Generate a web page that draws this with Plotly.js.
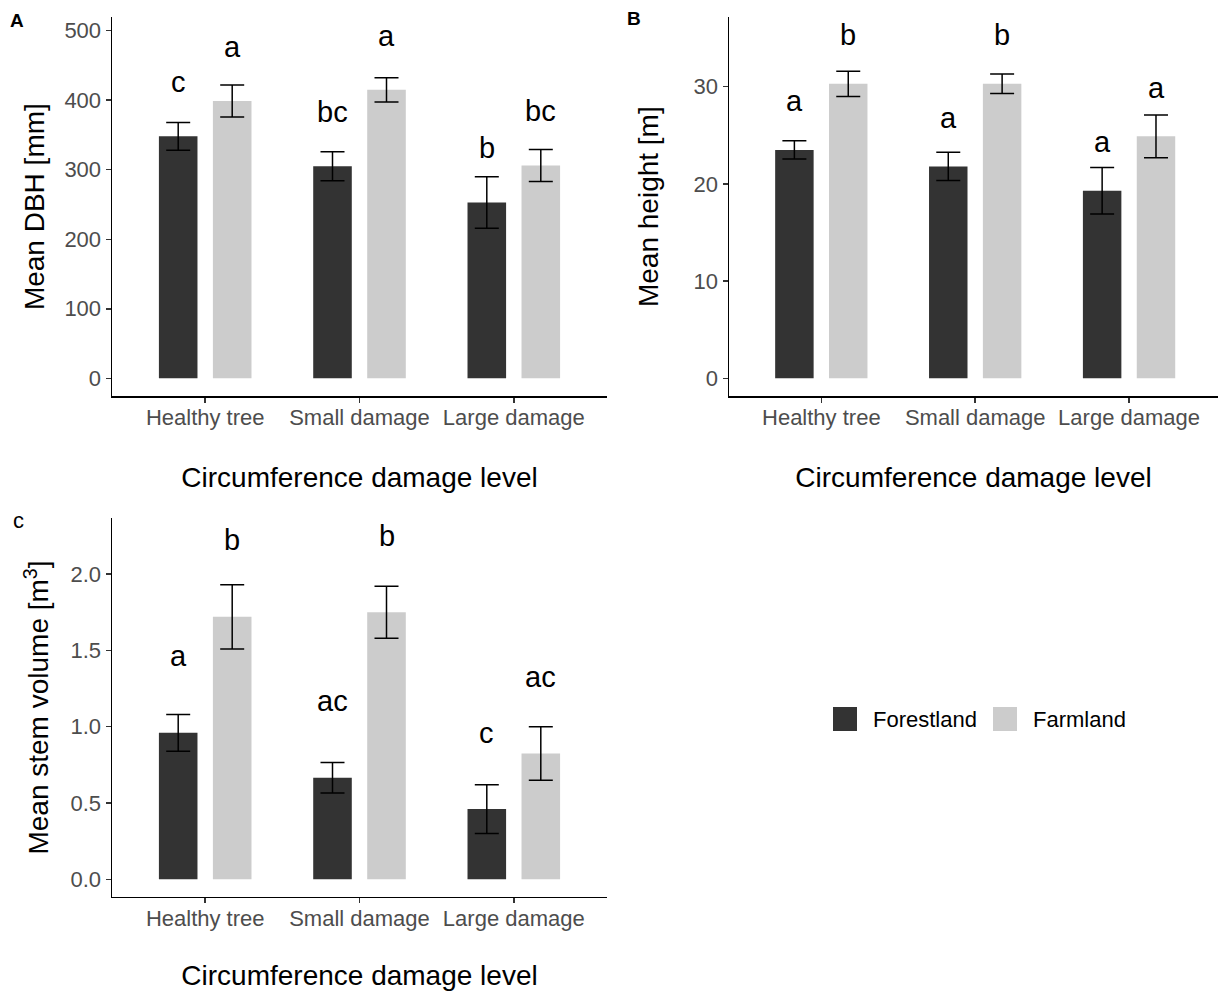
<!DOCTYPE html>
<html>
<head>
<meta charset="utf-8">
<script src="https://cdn.plot.ly/plotly-3.0.1.min.js"></script>
<style>html,body{margin:0;padding:0;background:#fff;}#chart{width:1218px;height:991px;}</style>
</head>
<body>
<div id="chart"></div>
<script>
// ---- data ----
const categories = ['Healthy tree', 'Small damage', 'Large damage'];
const seriesNames = ['Forestland', 'Farmland'];

const dbhForest = [348, 305, 253];
const dbhForestSE = [20, 21, 37];
const dbhFarm = [399, 415, 306];
const dbhFarmSE = [23, 17.5, 23];
const dbhLettersForest = ['c', 'bc', 'b'];
const dbhLettersFarm = ['a', 'a', 'bc'];

const heightForest = [23.5, 21.8, 19.3];
const heightForestSE = [0.95, 1.45, 2.4];
const heightFarm = [30.3, 30.3, 24.9];
const heightFarmSE = [1.3, 1.0, 2.2];
const heightLettersForest = ['a', 'a', 'a'];
const heightLettersFarm = ['b', 'b', 'a'];

const volForest = [0.96, 0.665, 0.46];
const volForestSE = [0.12, 0.10, 0.16];
const volFarm = [1.72, 1.75, 0.825];
const volFarmSE = [0.21, 0.17, 0.175];
const volLettersForest = ['a', 'ac', 'c'];
const volLettersFarm = ['b', 'b', 'ac'];

// ---- styles ----
const FOREST = '#333333', FARM = '#CCCCCC';
const FONT = 'Liberation Sans, Arial, sans-serif';
const W = 1218, H = 991;
const px = v => v / W;
const py = v => 1 - v / H;

function barTrace(name, y, se, color, xa, ya) {
  return {
    type: 'bar', name: name, x: categories, y: y, xaxis: xa, yaxis: ya,
    marker: {color: color, line: {width: 0}},
    error_y: {type: 'data', array: se, visible: true, color: '#000000', thickness: 1.5, width: 12},
    showlegend: false, hoverinfo: 'x+y'
  };
}

const panels = [
  {xa: 'x', ya: 'y', f: dbhForest, fse: dbhForestSE, g: dbhFarm, gse: dbhFarmSE, lf: dbhLettersForest, lg: dbhLettersFarm, off: 62},
  {xa: 'x2', ya: 'y2', f: heightForest, fse: heightForestSE, g: heightFarm, gse: heightFarmSE, lf: heightLettersForest, lg: heightLettersFarm, off: 3.87},
  {xa: 'x3', ya: 'y3', f: volForest, fse: volForestSE, g: volFarm, gse: volFarmSE, lf: volLettersForest, lg: volLettersFarm, off: 0.43}
];

const traces = [];
const annotations = [];
panels.forEach(p => {
  traces.push(barTrace(seriesNames[0], p.f, p.fse, FOREST, p.xa, p.ya));
  traces.push(barTrace(seriesNames[1], p.g, p.gse, FARM, p.xa, p.ya));
  categories.forEach((c, i) => {
    annotations.push({xref: p.xa, yref: p.ya, x: c, y: p.f[i] + p.off, text: p.lf[i], showarrow: false,
      xanchor: 'center', yanchor: 'bottom', xshift: -27, yshift: -7, font: {family: FONT, size: 29, color: '#000'}});
    annotations.push({xref: p.xa, yref: p.ya, x: c, y: p.g[i] + p.off, text: p.lg[i], showarrow: false,
      xanchor: 'center', yanchor: 'bottom', xshift: 27, yshift: -7, font: {family: FONT, size: 29, color: '#000'}});
  });
});

// panel tags
[['<b>A</b>', 17, 20], ['<b>B</b>', 634, 19], ['c', 18, 520]].forEach(t => {
  annotations.push({xref: 'paper', yref: 'paper', x: px(t[1]), y: py(t[2]), text: t[0],
    showarrow: false, xanchor: 'center', yanchor: 'middle', font: {family: FONT, size: t[0] === 'c' ? 22 : 19, color: '#000'}});
});

// legend (drawn)
const shapes = [
  {type: 'rect', xref: 'paper', yref: 'paper', x0: px(833), x1: px(857), y0: py(731), y1: py(707), fillcolor: FOREST, line: {width: 0}},
  {type: 'rect', xref: 'paper', yref: 'paper', x0: px(993), x1: px(1017), y0: py(731), y1: py(707), fillcolor: FARM, line: {width: 0}}
];
annotations.push({xref: 'paper', yref: 'paper', x: px(871), y: py(719), text: seriesNames[0], showarrow: false,
  xanchor: 'left', yanchor: 'middle', font: {family: FONT, size: 22, color: '#000'}});
annotations.push({xref: 'paper', yref: 'paper', x: px(1031), y: py(719), text: seriesNames[1], showarrow: false,
  xanchor: 'left', yanchor: 'middle', font: {family: FONT, size: 22, color: '#000'}});

function xAxis(domain, range, anchor) {
  return {
    domain: domain, anchor: anchor, type: 'category', categoryorder: 'array', categoryarray: categories,
    range: range, showline: true, linecolor: '#000', linewidth: 1.5, mirror: false,
    ticks: 'outside', ticklen: 5, tickwidth: 1.5, tickcolor: '#333333', ticklabelstandoff: -4,
    showgrid: false, zeroline: false, fixedrange: true,
    tickfont: {family: FONT, size: 22, color: '#4D4D4D'},
    title: {text: 'Circumference damage level', font: {family: FONT, size: 28, color: '#000'}, standoff: 38}
  };
}
function yAxis(domain, range, anchor, dtick, fmt, title, standoff) {
  return {
    domain: domain, anchor: anchor, range: range, dtick: dtick, tick0: 0, tickformat: fmt,
    showline: true, linecolor: '#000', linewidth: 1.5,
    ticks: 'outside', ticklen: 5, tickwidth: 1.5, tickcolor: '#333333',
    showgrid: false, zeroline: false, fixedrange: true,
    tickfont: {family: FONT, size: 22, color: '#4D4D4D'},
    title: {text: title, font: {family: FONT, size: 28, color: '#000'}, standoff: standoff}
  };
}

const topDom = [py(396), py(17.3)];
const botDom = [py(896.7), py(518.3)];

const layout = {
  width: W, height: H, margin: {l: 0, r: 0, t: 0, b: 0, pad: 0},
  paper_bgcolor: '#fff', plot_bgcolor: 'rgba(0,0,0,0)',
  barmode: 'group', bargap: 0.3, bargroupgap: 0.2857,
  showlegend: false,
  xaxis: xAxis([px(112), px(607)], [-0.604, 2.604], 'y'),
  yaxis: yAxis(topDom, [-25.5, 519.3], 'x', 100, 'd', 'Mean DBH [mm]', 11),
  xaxis2: xAxis([px(729), 1], [-0.6, 2.578], 'y2'),
  yaxis2: yAxis(topDom, [-1.82, 37.14], 'x2', 10, 'd', 'Mean height [m]', 27),
  xaxis3: xAxis([px(112), px(607)], [-0.604, 2.604], 'y3'),
  yaxis3: yAxis(botDom, [-0.114, 2.366], 'x3', 0.5, '.1f', 'Mean stem volume [m<sup>3</sup>]', 13),
  annotations: annotations, shapes: shapes,
  font: {family: FONT}
};

Plotly.newPlot('chart', traces, layout, {displayModeBar: false, staticPlot: true});
</script>
</body>
</html>
